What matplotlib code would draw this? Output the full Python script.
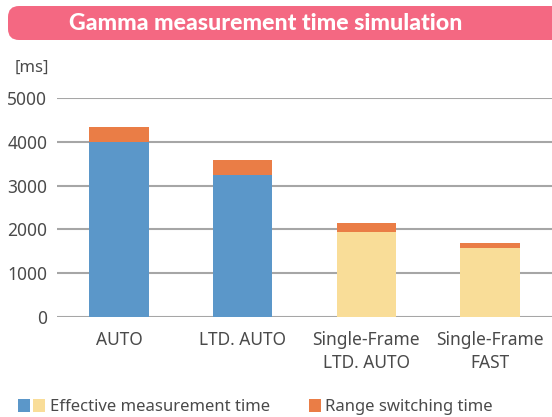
import matplotlib
matplotlib.use("Agg")
import matplotlib.pyplot as plt
from matplotlib.patches import FancyBboxPatch, Rectangle

categories = ['AUTO', 'LTD. AUTO', 'Single-Frame\nLTD. AUTO', 'Single-Frame\nFAST']
effective = [4000, 3240, 1940, 1575]
switching = [340, 345, 205, 115]
effective_colors = ['#5B97C9', '#5B97C9', '#F9DD98', '#F9DD98']
switch_color = '#EA7D46'
text_color = '#4a4a4a'

plt.rcParams['font.family'] = ['Noto Sans', 'DejaVu Sans']

fig = plt.figure(figsize=(5.52, 4.17), dpi=100)
W, H = 552, 417

# title banner
banner = FancyBboxPatch((8 / W, 1 - 40 / H), 560 / W, 34 / H,
                        boxstyle="round,pad=0,rounding_size=0.02",
                        transform=fig.transFigure, facecolor='#F46882',
                        edgecolor='none', mutation_aspect=W / H)
fig.patches.append(banner)
fig.text(266 / W, 1 - 23 / H, 'Gamma measurement time simulation', color='white',
         fontsize=16.7, fontweight='black', family=['Lato', 'DejaVu Sans'],
         ha='center', va='center')

ax = fig.add_axes([57 / W, 1 - 317 / H, 495 / W, 219 / H])
x = range(len(categories))
ax.bar(x, effective, width=0.48, color=effective_colors, zorder=3)
ax.bar(x, switching, width=0.48, bottom=effective, color=switch_color, zorder=3)

ax.set_xlim(-0.5, 3.5)
ax.set_ylim(0, 5000)
ax.set_yticks([0, 1000, 2000, 3000, 4000, 5000])
ax.set_xticks(list(x))
ax.set_xticklabels(categories, linespacing=1.35)
ax.grid(axis='y', color='#a6a6a6', linewidth=1.5, zorder=0)
for s in ax.spines.values():
    s.set_visible(False)
ax.tick_params(axis='y', length=0, pad=7, labelsize=12.5, labelcolor=text_color)
ax.tick_params(axis='x', length=0, pad=10, labelsize=12.5, labelcolor=text_color)
ax.set_axisbelow(True)

fig.text(15 / W, 1 - 68 / H, '[ms]', fontsize=12, color=text_color, ha='left', va='center')

# legend
for x0, c in [(18, '#5B97C9'), (33, '#F9DD98'), (309, switch_color)]:
    fig.patches.append(Rectangle((x0 / W, 1 - 412 / H), 12 / W, 13 / H,
                                 transform=fig.transFigure, facecolor=c, edgecolor='none'))
fig.text(50 / W, 1 - 407 / H, 'Effective measurement time', fontsize=12,
         color=text_color, ha='left', va='center')
fig.text(325 / W, 1 - 407 / H, 'Range switching time', fontsize=12,
         color=text_color, ha='left', va='center')

fig.savefig('out.png', dpi=100)
